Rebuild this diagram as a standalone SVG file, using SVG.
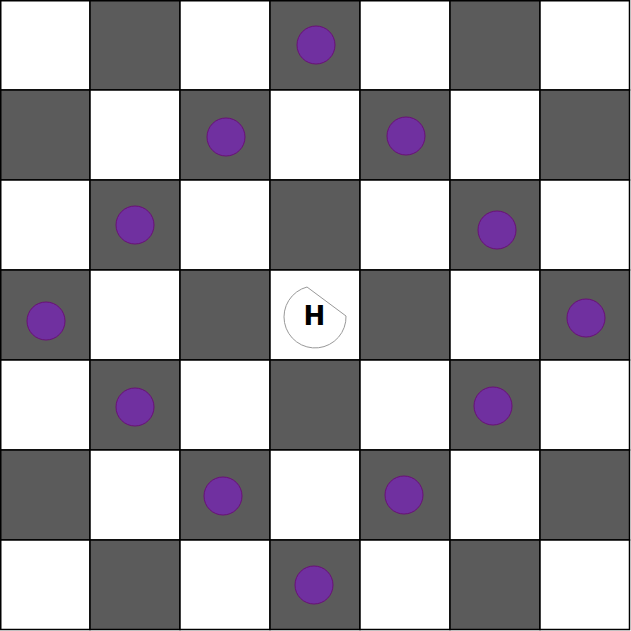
<svg xmlns="http://www.w3.org/2000/svg" width="631" height="631" viewBox="0 0 631 631">
<style>
.w{fill:#ffffff;stroke:#000;stroke-width:1.5}
.d{fill:#5b5b5b;stroke:#000;stroke-width:1.5}
.p{fill:#7030a0;stroke:#6a0f78;stroke-width:1}
.h{fill:#fff;stroke:#999;stroke-width:1}
.t{font-family:"DejaVu Sans",Verdana,sans-serif;font-weight:bold;font-size:26px;fill:#000}
</style>
<g id="board">
<rect class="w" x="0.75" y="0.75" width="89.25" height="89.25"/><rect class="d" x="90" y="0.75" width="90" height="89.25"/><rect class="w" x="180" y="0.75" width="90" height="89.25"/><rect class="d" x="270" y="0.75" width="90" height="89.25"/><rect class="w" x="360" y="0.75" width="90" height="89.25"/><rect class="d" x="450" y="0.75" width="90" height="89.25"/><rect class="w" x="540" y="0.75" width="89.5" height="89.25"/>
<rect class="d" x="0.75" y="90" width="89.25" height="90"/><rect class="w" x="90" y="90" width="90" height="90"/><rect class="d" x="180" y="90" width="90" height="90"/><rect class="w" x="270" y="90" width="90" height="90"/><rect class="d" x="360" y="90" width="90" height="90"/><rect class="w" x="450" y="90" width="90" height="90"/><rect class="d" x="540" y="90" width="89.5" height="90"/>
<rect class="w" x="0.75" y="180" width="89.25" height="90"/><rect class="d" x="90" y="180" width="90" height="90"/><rect class="w" x="180" y="180" width="90" height="90"/><rect class="d" x="270" y="180" width="90" height="90"/><rect class="w" x="360" y="180" width="90" height="90"/><rect class="d" x="450" y="180" width="90" height="90"/><rect class="w" x="540" y="180" width="89.5" height="90"/>
<rect class="d" x="0.75" y="270" width="89.25" height="90"/><rect class="w" x="90" y="270" width="90" height="90"/><rect class="d" x="180" y="270" width="90" height="90"/><rect class="w" x="270" y="270" width="90" height="90"/><rect class="d" x="360" y="270" width="90" height="90"/><rect class="w" x="450" y="270" width="90" height="90"/><rect class="d" x="540" y="270" width="89.5" height="90"/>
<rect class="w" x="0.75" y="360" width="89.25" height="90"/><rect class="d" x="90" y="360" width="90" height="90"/><rect class="w" x="180" y="360" width="90" height="90"/><rect class="d" x="270" y="360" width="90" height="90"/><rect class="w" x="360" y="360" width="90" height="90"/><rect class="d" x="450" y="360" width="90" height="90"/><rect class="w" x="540" y="360" width="89.5" height="90"/>
<rect class="d" x="0.75" y="450" width="89.25" height="90"/><rect class="w" x="90" y="450" width="90" height="90"/><rect class="d" x="180" y="450" width="90" height="90"/><rect class="w" x="270" y="450" width="90" height="90"/><rect class="d" x="360" y="450" width="90" height="90"/><rect class="w" x="450" y="450" width="90" height="90"/><rect class="d" x="540" y="450" width="89.5" height="90"/>
<rect class="w" x="0.75" y="540" width="89.25" height="89.5"/><rect class="d" x="90" y="540" width="90" height="89.5"/><rect class="w" x="180" y="540" width="90" height="89.5"/><rect class="d" x="270" y="540" width="90" height="89.5"/><rect class="w" x="360" y="540" width="90" height="89.5"/><rect class="d" x="450" y="540" width="90" height="89.5"/><rect class="w" x="540" y="540" width="89.5" height="89.5"/>
</g>
<g id="pieces">
<circle class="p" cx="316" cy="45" r="19"/>
<circle class="p" cx="226" cy="137" r="19"/>
<circle class="p" cx="406" cy="136" r="19"/>
<circle class="p" cx="135" cy="225" r="19"/>
<circle class="p" cx="497" cy="230" r="19"/>
<circle class="p" cx="46" cy="321" r="19"/>
<circle class="p" cx="586" cy="318" r="19"/>
<circle class="p" cx="135" cy="407" r="19"/>
<circle class="p" cx="493" cy="406" r="19"/>
<circle class="p" cx="223" cy="496" r="19"/>
<circle class="p" cx="404" cy="495" r="19"/>
<circle class="p" cx="314" cy="585" r="19"/>
</g>
<g id="H">
<path class="h" d="M307,287 A31,31 0 1 0 346,316 Z"/>
<text class="t" x="314.3" y="324.5" text-anchor="middle">H</text>
</g>
</svg>
